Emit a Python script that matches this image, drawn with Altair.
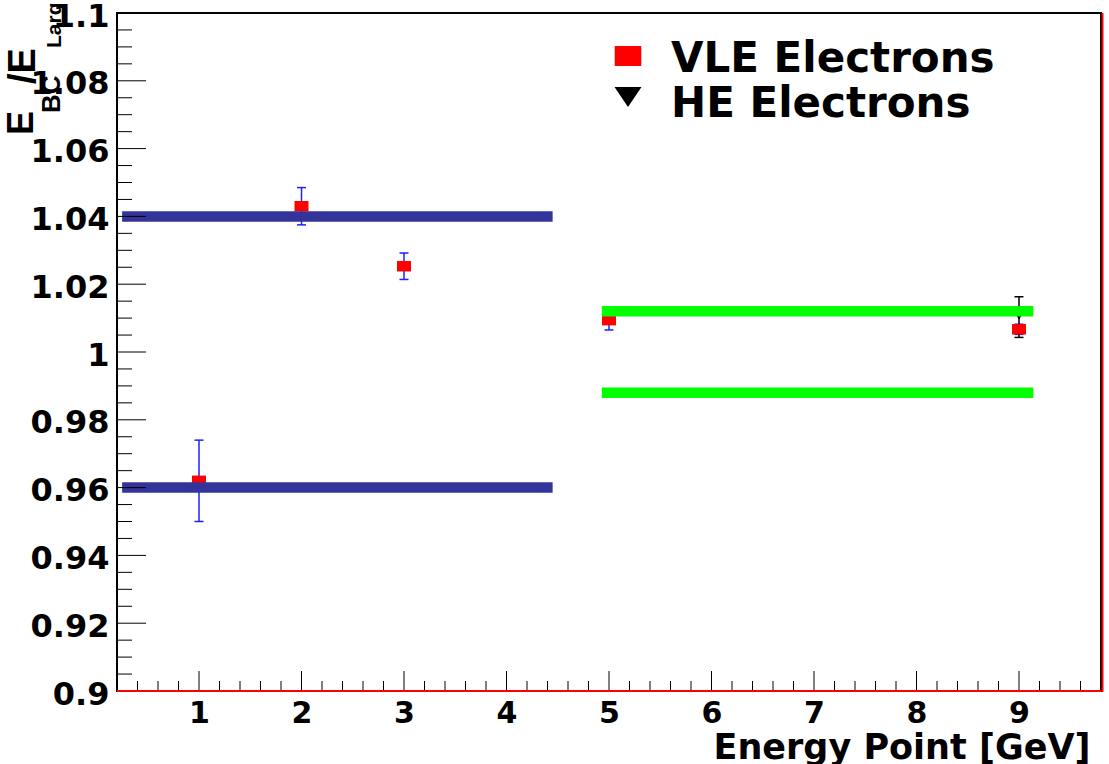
import altair as alt
import pandas as pd

# VLE electrons: energy point, E_BC/E_Larg ratio and its uncertainty
vle_energy = [1, 2, 3, 5, 9]
vle_ratio = [0.962, 1.043, 1.0253, 1.0094, 1.0067]
vle_err = [0.012, 0.0055, 0.0039, 0.0029, 0.0015]

# HE electrons
he_energy = [9]
he_ratio = [1.0103]
he_err = [0.006]

# Tolerance bands (level, x-extent, group)
band_level = [1.04, 0.96, 1.012, 0.988]
band_start = [0.25, 0.25, 4.93, 4.93]
band_end = [4.45, 4.45, 9.14, 9.14]
band_group = ["low", "low", "high", "high"]

# Axis tick values
x_major = [1, 2, 3, 4, 5, 6, 7, 8, 9]
y_major = [0.9, 0.92, 0.94, 0.96, 0.98, 1.0, 1.02, 1.04, 1.06, 1.08, 1.1]
x_minor = [round(0.2 + 0.2 * i, 1) for i in range(49) if abs(round(0.2 + 0.2 * i, 1) % 1) > 1e-9]
y_minor = [round(0.9 + 0.005 * i, 3) for i in range(41) if i % 4 != 0]

W, H = 984, 678
FONT = "DejaVu Sans"

xs = alt.Scale(domain=[0.2, 9.8], nice=False, zero=False)
ys = alt.Scale(domain=[0.9, 1.1], nice=False, zero=False)

xaxis = alt.Axis(
    values=x_major, title="Energy Point [GeV]", ticks=False, domain=False, grid=False,
    labelFont=FONT, labelFontWeight="bold", labelFontSize=30, labelColor="black",
    labelPadding=7, labelFlush=False, labelOverlap=False,
    titleFont=FONT, titleFontWeight="bold", titleFontSize=35, titleColor="black",
    titleAlign="right", titleAnchor="end", titleX=973, titleY=67, titleBaseline="alphabetic",
)
yaxis = alt.Axis(
    values=y_major, title=None, ticks=False, domain=False, grid=False, format=".3~g",
    labelFont=FONT, labelFontWeight="bold", labelFontSize=32, labelColor="black",
    labelPadding=8, labelOffset=3, labelFlush=False, labelOverlap=False,
)


def X(field):
    return alt.X(field, type="quantitative", scale=xs, axis=xaxis)


def Y(field):
    return alt.Y(field, type="quantitative", scale=ys, axis=yaxis)


vle_df = pd.DataFrame({"energy": vle_energy, "ratio": vle_ratio, "err": vle_err})
he_df = pd.DataFrame({"energy": he_energy, "ratio": he_ratio, "err": he_err})
band_df = pd.DataFrame({"level": band_level, "start": band_start, "end": band_end, "group": band_group})
one = pd.DataFrame({"k": [0]})

RECT = "M-1.33,-1H1.33V1H-1.33Z"
TRI = "M-1,-0.74L1,-0.74L0,0.74Z"


def error_layers(df, color):
    base = alt.Chart(df).transform_calculate(
        lo="datum.ratio - datum.err", hi="datum.ratio + datum.err"
    )
    bar = base.mark_rule(color=color, strokeWidth=1.5).encode(
        x=X("energy"), y=Y("lo"), y2="hi:Q"
    )
    cap_lo = base.mark_point(shape="stroke", size=81, color=color, strokeWidth=1.5,
                             filled=False, opacity=1).encode(x=X("energy"), y=Y("lo"))
    cap_hi = base.mark_point(shape="stroke", size=81, color=color, strokeWidth=1.5,
                             filled=False, opacity=1).encode(x=X("energy"), y=Y("hi"))
    return [bar, cap_lo, cap_hi]


vle_err_layers = error_layers(vle_df, "#1f1fff")
he_err_layers = error_layers(he_df, "black")

vle_pts = alt.Chart(vle_df).mark_point(
    shape=RECT, size=110, filled=True, color="#ff0000", opacity=1, strokeWidth=0
).encode(x=X("energy"), y=Y("ratio"))

he_pts = alt.Chart(he_df).mark_point(
    shape=TRI, size=40, filled=True, color="black", opacity=1, strokeWidth=0
).encode(x=X("energy"), y=Y("ratio"))

bands = alt.Chart(band_df).mark_rule(strokeWidth=10.5, strokeCap="butt").encode(
    x=X("start"), x2="end:Q", y=Y("level"),
    color=alt.Color("group:N", scale=alt.Scale(domain=["low", "high"], range=["#333399", "#00ff00"]), legend=None),
)

# Inward ticks along the left and bottom frame
ymaj = alt.Chart(pd.DataFrame({"v": y_major})).mark_rule(color="black", strokeWidth=1).encode(
    y=Y("v"), x=alt.value(0), x2=alt.value(29))
ymin = alt.Chart(pd.DataFrame({"v": y_minor})).mark_rule(color="black", strokeWidth=1).encode(
    y=Y("v"), x=alt.value(0), x2=alt.value(15))
xmaj = alt.Chart(pd.DataFrame({"v": x_major})).mark_rule(color="black", strokeWidth=1).encode(
    x=X("v"), y=alt.value(H), y2=alt.value(H - 20))
xmin = alt.Chart(pd.DataFrame({"v": x_minor})).mark_rule(color="black", strokeWidth=1).encode(
    x=X("v"), y=alt.value(H), y2=alt.value(H - 10))

# Red frame edges on the bottom and right
red_bottom = alt.Chart(one).mark_rule(color="#ff0000", strokeWidth=2).encode(
    x=alt.value(0), x2=alt.value(W), y=alt.value(H))
red_right = alt.Chart(one).mark_rule(color="#ff0000", strokeWidth=2).encode(
    x=alt.value(W + 1.5), y=alt.value(0), y2=alt.value(H + 1))

# Legend
leg_sq = alt.Chart(one).mark_point(shape=RECT, size=400, filled=True, color="#ff0000",
                                   opacity=1, strokeWidth=0).encode(x=alt.value(511), y=alt.value(43))
leg_tri = alt.Chart(one).mark_point(shape=TRI, size=729, filled=True, color="black",
                                    opacity=1, strokeWidth=0).encode(x=alt.value(511), y=alt.value(84))
leg_txt1 = alt.Chart(one).mark_text(text="VLE Electrons", font=FONT, fontWeight="bold", fontSize=42,
                                    align="left", baseline="alphabetic", color="black").encode(
    x=alt.value(554), y=alt.value(59))
leg_txt2 = alt.Chart(one).mark_text(text="HE Electrons", font=FONT, fontWeight="bold", fontSize=42,
                                    align="left", baseline="alphabetic", color="black").encode(
    x=alt.value(554), y=alt.value(104))

# Y-axis title E_BC / E_Larg built from rotated pieces (condensed face)
TFONT = "Liberation Sans Narrow, Liberation Sans"


def rot_text(txt, size, x, y):
    return alt.Chart(one).mark_text(text=txt, font=TFONT, fontWeight="bold", fontSize=size,
                                    angle=270, align="left", baseline="alphabetic",
                                    color="black").encode(x=alt.value(x), y=alt.value(y))


ytitle = [
    rot_text("E", 36, -84, 122),
    rot_text("BC", 26, -57, 100),
    rot_text("/E", 38, -82, 71),
    rot_text("Larg", 21, -56, 35),
]

chart = alt.layer(
    *vle_err_layers, *he_err_layers, vle_pts, he_pts, bands,
    ymaj, ymin, xmaj, xmin, red_bottom, red_right,
    leg_sq, leg_tri, leg_txt1, leg_txt2, *ytitle,
).properties(
    width=W, height=H,
    padding={"left": 117, "top": 13, "right": 8, "bottom": 73},
    autosize=alt.AutoSizeParams(type="none"),
    background="white",
).configure_view(stroke="black", strokeWidth=2)

chart.save("out.html", embed_options={"renderer": "svg", "actions": False})
